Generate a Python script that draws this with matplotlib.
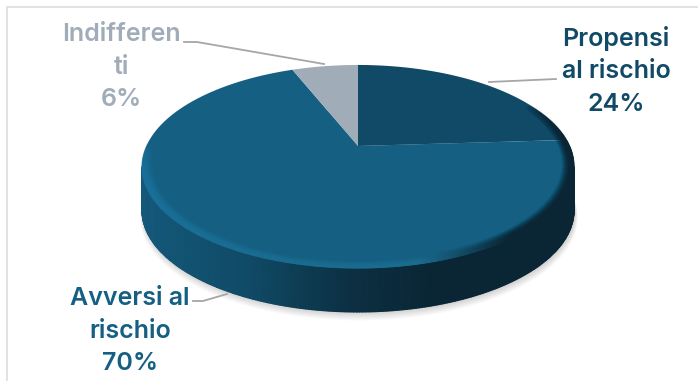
import numpy as np
from matplotlib import pyplot as plt
from matplotlib.colors import to_rgb

# dati del grafico
categorie = ["Propensi\nal rischio", "Avversi al\nrischio", "Indifferen\nti"]
quote = [24, 70, 6]
colori_fette = ["#104A66", "#156082", "#A0ADB9"]
colori_testo = ["#104A66", "#156082", "#A0ADB9"]

W, H = 698, 381

# geometria della torta in prospettiva (unita' in pixel)
CX, CY = 358, 146
BX, BY, K = 211.6, 97.4, 0.202
SPESSORE = 44


def proietta(ang, r=1.0):
    # angolo in radianti, senso orario a partire dall'alto
    u = r * np.sin(ang)
    v = r * np.cos(ang)
    d = 1 + K * v
    return CX + BX * u / d, CY - BY * v / d


def rampa(x, xs, cols):
    # colore interpolato lungo l'asse x
    rgb = np.array([to_rgb(c) for c in cols])
    return np.stack([np.interp(x, xs, rgb[:, i]) for i in range(3)], axis=-1)


fig = plt.figure(figsize=(W / 100, H / 100), dpi=100)
ax = fig.add_axes([0, 0, 1, 1])
ax.set_xlim(0, W)
ax.set_ylim(H, 0)
ax.axis("off")

# cornice
ax.plot([6.5, 6.5, W], [H, 6.5, 6.5], color="#DDDDDD", lw=1.2, zorder=1)

# ombra sotto la torta
tutto = np.linspace(0, 2 * np.pi, 300)
xo, yo = proietta(tutto)
for i in range(10):
    s = 1 + 0.0014 * (9 - i)
    ax.fill(CX + (xo - CX) * s + 1, 166 + (yo - 166) * s + SPESSORE + 0.8 * (9 - i),
            color="#000000", alpha=0.02, lw=0, zorder=2)

# fianco con sfumatura da sinistra verso destra
ang_vis = np.linspace(np.pi / 2 + 0.2035, 3 * np.pi / 2 - 0.2035, 240)
xt, yt = proietta(ang_vis)
col_fianco = rampa(xt, [143, 250, 349, 440], ["#14587A", "#104A66", "#0C3043", "#0A2533"])
gx = np.stack([xt, xt])
gy = np.stack([yt, yt + SPESSORE])
ax.pcolormesh(gx, gy, np.stack([col_fianco, col_fianco]), shading="gouraud", zorder=3)

# fette sulla faccia superiore
inizio = 0
for q, col in zip(quote, colori_fette):
    a = np.linspace(inizio, inizio + q / sum(quote), 120) * 2 * np.pi
    xf, yf = proietta(a)
    ax.fill(np.r_[CX, xf], np.r_[CY, yf], color=col, lw=0, zorder=4)
    inizio += q / sum(quote)

# smussatura lungo il bordo, che svanisce verso le estremita'
ang_bordo = np.linspace(1.1, 3 * np.pi / 2 + 0.05, 300)
raggi = np.linspace(0.945, 1.0, 8)
xb = np.stack([proietta(ang_bordo, r)[0] for r in raggi])
yb = np.stack([proietta(ang_bordo, r)[1] for r in raggi])
col_bordo = rampa(xb, [143, 300, 420, 510, 575],
                  ["#1A709A", "#1A6C90", "#1A6C90", "#0A2533", "#0A2533"])
fade = np.clip((ang_bordo - 1.1) / 0.5, 0, 1) * np.clip((ang_bordo[-1] - ang_bordo) / 0.4, 0, 1)
alfa = np.stack([(j / (len(raggi) - 1)) ** 1.5 * fade for j in range(len(raggi))])
ax.pcolormesh(xb, yb, np.dstack([col_bordo, alfa]), shading="gouraud", zorder=5)

# linee guida delle etichette
guide = [
    ([556, 489], [79, 82]),
    ([193, 203, 227], [301, 301, 294]),
    ([184, 197, 324], [42, 42, 64]),
]
for gx, gy in guide:
    ax.plot(gx, gy, color="#A6A6A6", lw=1.3, zorder=6)

# etichette
pos_etichette = [(616, 71), (130, 331), (121, 67)]
for nome, q, col, (tx, ty) in zip(categorie, quote, colori_testo, pos_etichette):
    ax.text(tx, ty, f"{nome}\n{q}%", color=col, ha="center", va="center",
            fontsize=18, family="Inter", weight="semibold", linespacing=1.53, zorder=7)

fig.savefig("out.png", dpi=100)
plt.close(fig)
